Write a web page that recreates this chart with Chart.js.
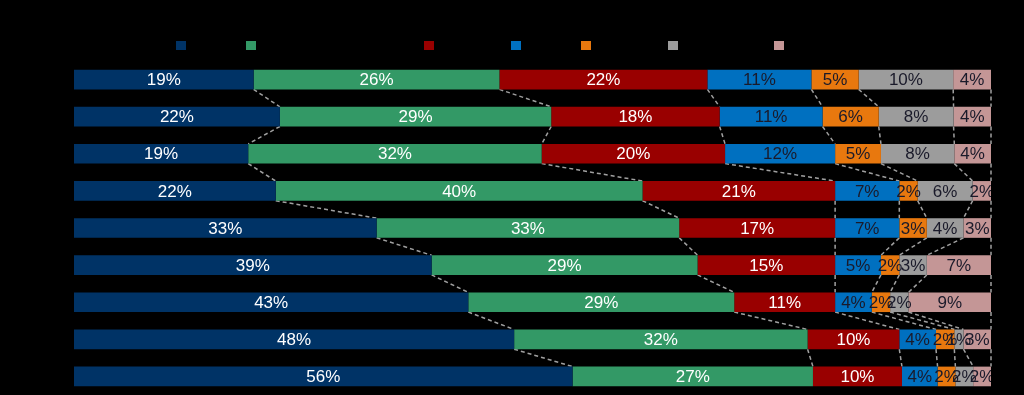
<!DOCTYPE html>
<html>
<head>
<meta charset="utf-8">
<script src="https://cdn.jsdelivr.net/npm/chart.js@4"></script>
<style>
  html, body { margin: 0; padding: 0; background: #000; }
  #wrap { position: relative; width: 1024px; height: 395px; background: #000; }
  #legend { position: absolute; left: 0; top: 0; width: 1024px; height: 60px; }
  .lg { position: absolute; top: 41px; height: 10px; font: 13px "Liberation Sans", Arial, sans-serif; color: #000; white-space: nowrap; }
  .lg i { display: inline-block; width: 10px; height: 9px; margin-right: 5px; vertical-align: top; }
  canvas { display: block; }
</style>
</head>
<body>
<div id="wrap">
  <div id="legend"></div>
  <canvas id="chart" width="1024" height="395"></canvas>
</div>
<script>
// categories (text is black on black in the reference)
const categories = ['Category 1', 'Category 2', 'Category 3', 'Category 4', 'Category 5',
                    'Category 6', 'Category 7', 'Category 8', 'Category 9'];
const seriesNames = ['Series 1', 'Series 2', 'Series 3', 'Series 4', 'Series 5', 'Series 6', 'Series 7'];
const seriesColors = ['#003366', '#339966', '#990000', '#0070c0', '#e8780e', '#9c9c9c', '#c49696'];
const labelColors = ['#fff', '#fff', '#fff', '#1a1a2a', '#1a1a2a', '#1a1a2a', '#1a1a2a'];

// values per series (percent shown on the bars)
const s1 = [19, 22, 19, 22, 33, 39, 43, 48, 56];
const s2 = [26, 29, 32, 40, 33, 29, 29, 32, 27];
const s3 = [22, 18, 20, 21, 17, 15, 11, 10, 10];
const s4 = [11, 11, 12, 7, 7, 5, 4, 4, 4];
const s5 = [5, 6, 5, 2, 3, 2, 2, 2, 2];
const s6 = [10, 8, 8, 6, 4, 3, 2, 1, 2];
const s7 = [4, 4, 4, 2, 3, 7, 9, 3, 2];
const series = [s1, s2, s3, s4, s5, s6, s7];

// legend square positions
const legendLeft = [176, 246, 424, 511, 581, 668, 774];

const legend = document.getElementById('legend');
seriesNames.forEach((name, k) => {
    const d = document.createElement('div');
    d.className = 'lg';
    d.style.left = legendLeft[k] + 'px';
    d.innerHTML = '<i style="background:' + seriesColors[k] + '"></i>' + name;
    legend.appendChild(d);
});

// 100% stacked: normalise each row
const rowSums = categories.map((c, i) => series.reduce((a, s) => a + s[i], 0));

const datasets = series.map((s, k) => ({
    label: seriesNames[k],
    data: s.map((v, i) => v / rowSums[i] * 100),
    raw: s,
    backgroundColor: seriesColors[k],
    borderWidth: 0,
    barPercentage: 0.53,
    categoryPercentage: 1.0
}));

// dashed series lines between bars
const seriesLines = {
    id: 'seriesLines',
    beforeDatasetsDraw(chart) {
        const ctx = chart.ctx;
        ctx.save();
        ctx.strokeStyle = '#a0a0a0';
        ctx.lineWidth = 1.5;
        ctx.setLineDash([4, 3]);
        chart.data.datasets.forEach((ds, k) => {
            const bars = chart.getDatasetMeta(k).data;
            for (let i = 0; i < bars.length - 1; i++) {
                const a = bars[i], b = bars[i + 1];
                ctx.beginPath();
                ctx.moveTo(a.x, a.y + a.height / 2);
                ctx.lineTo(b.x, b.y - b.height / 2);
                ctx.stroke();
            }
        });
        ctx.restore();
    }
};

// value labels centred on each segment
const barLabels = {
    id: 'barLabels',
    afterDatasetsDraw(chart) {
        const ctx = chart.ctx;
        const area = chart.chartArea;
        ctx.save();
        ctx.beginPath();
        ctx.rect(area.left, area.top, area.right - area.left, area.bottom - area.top);
        ctx.clip();
        ctx.font = '17px "Liberation Sans", Arial, sans-serif';
        ctx.textAlign = 'center';
        ctx.textBaseline = 'middle';
        chart.data.datasets.forEach((ds, k) => {
            ctx.fillStyle = labelColors[k];
            chart.getDatasetMeta(k).data.forEach((bar, i) => {
                ctx.fillText(ds.raw[i] + '%', (bar.x + bar.base) / 2, bar.y + 1);
            });
        });
        ctx.restore();
    }
};

new Chart(document.getElementById('chart'), {
    type: 'bar',
    data: { labels: categories, datasets: datasets },
    options: {
        indexAxis: 'y',
        responsive: false,
        animation: false,
        layout: { padding: { top: 61, right: 33, bottom: 0, left: 0 } },
        plugins: { legend: { display: false }, tooltip: { enabled: false } },
        scales: {
            x: { stacked: true, min: 0, max: 100, display: false },
            y: {
                stacked: true,
                grid: { display: false },
                border: { display: false },
                ticks: { color: '#000', font: { size: 13, family: 'Liberation Sans' } },
                afterFit(scale) {
                    scale.width = 74;
                    scale.paddingTop = 0;
                    scale.paddingBottom = 0;
                }
            }
        }
    },
    plugins: [seriesLines, barLabels]
});
</script>
</body>
</html>
